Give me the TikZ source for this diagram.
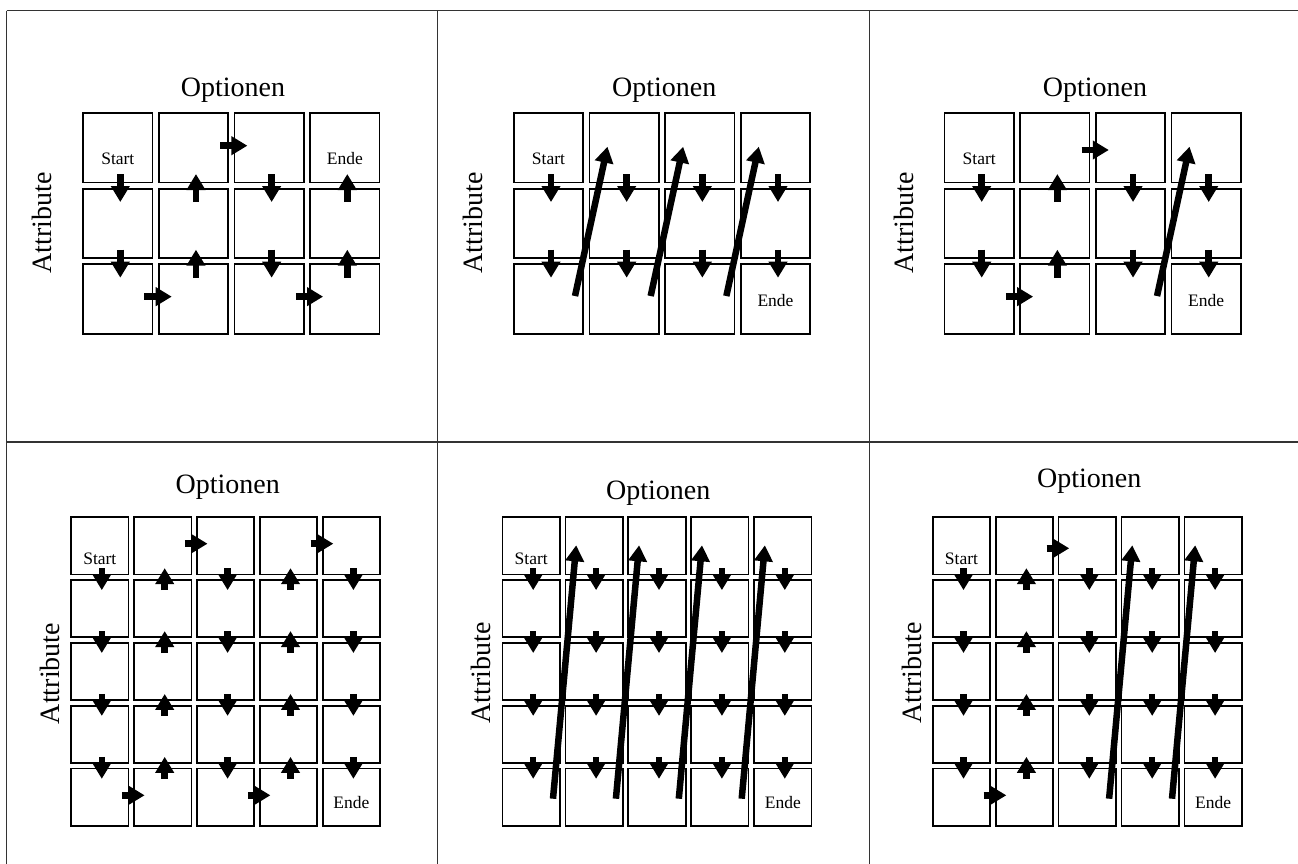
\documentclass[tikz,border=0pt]{standalone}
\usepackage{fontspec}
\setmainfont{Liberation Serif}
\usetikzlibrary{arrows.meta,calc}

% grid of square cells: prefix, centre x of cell 1-1, centre y of cell 1-1, columns, rows, pitch, size
\newcommand\cellgrid[7]{%
  \foreach \r in {1,...,#5}{%
    \foreach \c in {1,...,#4}{%
      \node[cell, minimum size=#7pt] (#1-\r-\c) at ({#2+(\c-1)*#6},{#3+(\r-1)*#6}) {};
    }}}

% block arrows across the boundaries of one column: prefix, column, last boundary
\newcommand\downarrows[3]{%
  \foreach \r in {1,...,#3}{\pgfmathtruncatemacro\rr{\r+1}%
    \draw[blk] ($(#1-\r-#2)!.5!(#1-\rr-#2)+(\adx,\atail)$) -- ($(#1-\r-#2)!.5!(#1-\rr-#2)+(\adx,\atip)$);}}
\newcommand\uparrows[3]{%
  \foreach \r in {1,...,#3}{\pgfmathtruncatemacro\rr{\r+1}%
    \draw[blk] ($(#1-\r-#2)!.5!(#1-\rr-#2)+(\adx,\atip)$) -- ($(#1-\r-#2)!.5!(#1-\rr-#2)+(\adx,\atail)$);}}
% block arrow from one column to the next: prefix, row, column, vertical offset
\newcommand\sidearrow[4]{%
  \pgfmathtruncatemacro\cc{#3+1}%
  \draw[blk] ($(#1-#2-#3)!.5!(#1-#2-\cc)+(\htail,#4)$) -- ($(#1-#2-#3)!.5!(#1-#2-\cc)+(\htip,#4)$);}
% long slanted arrow from the bottom row of one column to the top row of the next
\newcommand\jumparrow[3]{% prefix, column, last row
  \pgfmathtruncatemacro\cc{#2+1}%
  \draw[blk] ($(#1-#3-#2)+(\jtx,\jty)$) -- ($(#1-1-\cc)+(\jhx,\jhy)$);}

\newcommand\bigsetup{\def\adx{2.5}\def\atail{-11.5}\def\atip{16.5}\def\htail{-11.2}\def\htip{16.1}%
  \def\jtx{26.5}\def\jty{-3}\def\jhx{-16.7}\def\jhy{-1}}
\newcommand\smallsetup{\def\adx{2}\def\atail{-9}\def\atip{13}\def\htail{-9.3}\def\htip{13.4}%
  \def\jtx{21.8}\def\jty{1.4}\def\jhx{-17.9}\def\jhy{-0.4}}

\begin{document}
\begin{tikzpicture}[x=1pt,y=-1pt,
  frame/.style={draw=black!80,line width=1.3pt},
  cell/.style={draw=black,line width=1.7pt,inner sep=0pt,fill=white},
  blk/.style={line width=6.5pt,black,-{Triangle[width=18pt,length=16pt]}},
  optlabel/.style={font=\fontsize{28}{32}\selectfont,inner sep=0pt},
  attlabel/.style={font=\fontsize{28}{32}\selectfont,inner sep=0pt,rotate=90},
  celltext/.style={font=\fontsize{17.5}{20}\selectfont,inner sep=0pt}]
\useasboundingbox (0,0) rectangle (1298,864);

% table rules
\draw[frame] (6.7,10.7) -- (1298,10.7);
\draw[frame] (6.7,10.7) -- (6.7,864);
\draw[frame] (437.7,10.7) -- (437.7,864);
\draw[frame] (869.5,10.7) -- (869.5,864);
\draw[frame] (6.7,442) -- (1298,442);

% ---------- upper row: 4 x 3 grids ----------
\bigsetup
\cellgrid{A}{117.8}{147.7}{4}{3}{75.67}{69.4}
\cellgrid{B}{548.5}{147.7}{4}{3}{75.67}{69.4}
\cellgrid{C}{979.2}{147.7}{4}{3}{75.67}{69.4}

% serpentine path
\downarrows{A}{1}{2} \uparrows{A}{2}{2} \downarrows{A}{3}{2} \uparrows{A}{4}{2}
\sidearrow{A}{1}{2}{-2} \sidearrow{A}{3}{1}{-2.4} \sidearrow{A}{3}{3}{-2.4}

% column-wise path with jumps
\downarrows{B}{1}{2} \downarrows{B}{2}{2} \downarrows{B}{3}{2} \downarrows{B}{4}{2}
\jumparrow{B}{1}{3} \jumparrow{B}{2}{3} \jumparrow{B}{3}{3}

% mixed path
\downarrows{C}{1}{2} \uparrows{C}{2}{2} \downarrows{C}{3}{2} \downarrows{C}{4}{2}
\sidearrow{C}{1}{2}{2.3} \sidearrow{C}{3}{1}{-2.4}
\jumparrow{C}{3}{3}

\node[optlabel] (optA) at (233,90) {Optionen};
\node[optlabel] (optB) at (664.3,90) {Optionen};
\node[optlabel] (optC) at (1095,90) {Optionen};
\node[attlabel] (attA) at (42,223) {Attribute};
\node[attlabel] (attB) at (472.7,223) {Attribute};
\node[attlabel] (attC) at (904,223) {Attribute};

\node[celltext] (startA) at ($(A-1-1)+(0,11.2)$) {Start};
\node[celltext] (endeA) at ($(A-1-4)+(0,11.2)$) {Ende};
\node[celltext] (startB) at ($(B-1-1)+(0,11.2)$) {Start};
\node[celltext] (endeB) at ($(B-3-4)+(0,1.8)$) {Ende};
\node[celltext] (startC) at ($(C-1-1)+(0,11.2)$) {Start};
\node[celltext] (endeC) at ($(C-3-4)+(0,1.8)$) {Ende};

% ---------- lower row: 5 x 5 grids ----------
\smallsetup
\cellgrid{D}{99.8}{545.7}{5}{5}{62.9}{57.4}
\cellgrid{E}{531.2}{545.7}{5}{5}{62.9}{57.4}
\cellgrid{F}{961.5}{545.7}{5}{5}{62.9}{57.4}

\downarrows{D}{1}{4} \uparrows{D}{2}{4} \downarrows{D}{3}{4} \uparrows{D}{4}{4} \downarrows{D}{5}{4}
\sidearrow{D}{1}{2}{-2} \sidearrow{D}{1}{4}{-2} \sidearrow{D}{5}{1}{-2} \sidearrow{D}{5}{3}{-2}

\downarrows{E}{1}{4} \downarrows{E}{2}{4} \downarrows{E}{3}{4} \downarrows{E}{4}{4} \downarrows{E}{5}{4}
\jumparrow{E}{1}{5} \jumparrow{E}{2}{5} \jumparrow{E}{3}{5} \jumparrow{E}{4}{5}

\downarrows{F}{1}{4} \uparrows{F}{2}{4} \downarrows{F}{3}{4} \downarrows{F}{4}{4} \downarrows{F}{5}{4}
\sidearrow{F}{1}{2}{2.6} \sidearrow{F}{5}{1}{-2}
\jumparrow{F}{3}{5} \jumparrow{F}{4}{5}

\node[optlabel] (optD) at (227.7,487.7) {Optionen};
\node[optlabel] (optE) at (658.3,493.3) {Optionen};
\node[optlabel] (optF) at (1089.3,481) {Optionen};
\node[attlabel] (attD) at (50,673.5) {Attribute};
\node[attlabel] (attE) at (481,672.7) {Attribute};
\node[attlabel] (attF) at (911.7,672.7) {Attribute};

\node[celltext] (startD) at ($(D-1-1)+(0,12.6)$) {Start};
\node[celltext] (endeD) at ($(D-5-5)+(0,5.4)$) {Ende};
\node[celltext] (startE) at ($(E-1-1)+(0,12.6)$) {Start};
\node[celltext] (endeE) at ($(E-5-5)+(0,5.4)$) {Ende};
\node[celltext] (startF) at ($(F-1-1)+(0,12.6)$) {Start};
\node[celltext] (endeF) at ($(F-5-5)+(0,5.4)$) {Ende};
\end{tikzpicture}
\end{document}
